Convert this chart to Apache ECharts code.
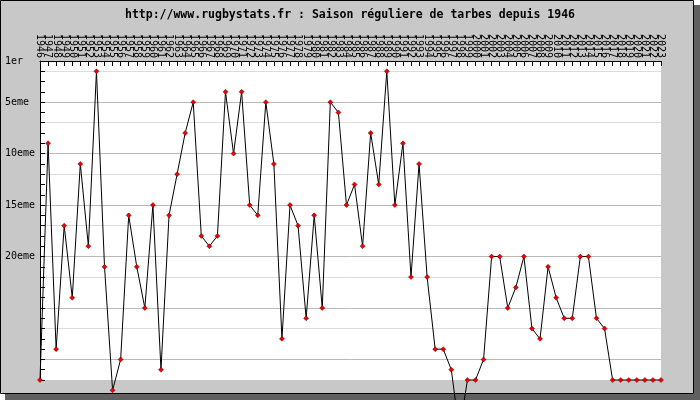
<!DOCTYPE html>
<html>
<head>
<meta charset="utf-8">
<script src="https://cdn.jsdelivr.net/npm/echarts@6/dist/echarts.min.js"></script>
<style>
html,body{margin:0;padding:0;background:#fff;}
#chart{width:700px;height:400px;}
</style>
</head>
<body>
<div id="chart"></div>
<script>
const titleText = 'http://www.rugbystats.fr : Saison réguliere de tarbes depuis 1946';

const years = ['1946','1947','1948','1949','1950','1951','1952','1953','1954','1955',
  '1956','1957','1958','1959','1960','1961','1962','1963','1964','1965',
  '1966','1967','1968','1969','1970','1971','1972','1973','1974','1975',
  '1976','1977','1978','1979','1980','1981','1982','1983','1984','1985',
  '1986','1987','1988','1989','1990','1991','1992','1993','1994','1995',
  '1996','1997','1998','1999','2000','2001','2002','2003','2004','2005',
  '2006','2007','2008','2009','2010','2011','2012','2013','2014','2015',
  '2016','2017','2018','2019','2020','2021','2022','2023'];

// Regular-season rank per year (32 = bottom line of the chart)
const ranks = [32, 9, 29, 17, 24, 11, 19, 2, 21, 33,
  30, 16, 21, 25, 15, 31, 16, 12, 8, 5,
  18, 19, 18, 4, 10, 4, 15, 16, 5, 11,
  28, 15, 17, 26, 16, 25, 5, 6, 15, 13,
  19, 8, 13, 2, 15, 9, 22, 11, 22, 29,
  29, 31, 37, 32, 32, 30, 20, 20, 25, 23,
  20, 27, 28, 21, 24, 26, 26, 20, 20, 26,
  27, 32, 32, 32, 32, 32, 32, 32];

const yLabelRanks = [1, 5, 10, 15, 20];
const yLabelTexts = ['1er', '5eme', '10eme', '15eme', '20eme'];
const darkGridRanks = [5, 10, 15, 20, 25, 30];
const lightGridRanks = [2, 7, 12, 17, 22, 27];
const rankMin = 1, rankMax = 32;

const gridColors = [];
for (let r = rankMin; r <= rankMax; r++) {
  if (darkGridRanks.indexOf(r) >= 0) gridColors.push('#b9b9b9');
  else if (lightGridRanks.indexOf(r) >= 0) gridColors.push('#dddddd');
  else gridColors.push('rgba(0,0,0,0)');
}

const chart = echarts.init(document.getElementById('chart'), null, {renderer: 'canvas'});
const mono = '"DejaVu Sans Mono", "Liberation Mono", monospace';

chart.setOption({
  animation: false,
  backgroundColor: '#c8c8c8',
  title: {
    text: titleText,
    left: 'center',
    top: 4,
    textStyle: {fontFamily: mono, fontWeight: 'bold', fontSize: 11.5, color: '#000'}
  },
  graphic: [
    {type: 'rect', z: 0, silent: true, shape: {x: 694, y: 5, width: 6, height: 395}, style: {fill: '#606060'}},
    {type: 'rect', z: 0, silent: true, shape: {x: 5, y: 394, width: 695, height: 6}, style: {fill: '#606060'}},
    {type: 'rect', z: 0, silent: true, shape: {x: 694, y: 0, width: 6, height: 5}, style: {fill: '#ffffff'}},
    {type: 'rect', z: 0, silent: true, shape: {x: 0, y: 394, width: 5, height: 6}, style: {fill: '#ffffff'}},
    {type: 'rect', z: 0, silent: true, shape: {x: 0.5, y: 0.5, width: 693, height: 393}, style: {fill: null, stroke: '#000', lineWidth: 1}}
  ],
  grid: {
    left: 40, right: 39, top: 61, bottom: 20,
    show: true, backgroundColor: '#ffffff', borderWidth: 0
  },
  xAxis: {
    type: 'category',
    data: years,
    position: 'top',
    boundaryGap: false,
    axisLine: {show: true, lineStyle: {color: '#000', width: 1}},
    axisTick: {show: true, inside: true, length: 5, interval: 0, lineStyle: {color: '#000'}},
    axisLabel: {
      interval: 0, rotate: 90, margin: 3,
      fontFamily: mono, fontSize: 10, color: '#000'
    },
    splitLine: {show: false}
  },
  yAxis: {
    type: 'value',
    inverse: true,
    min: rankMin, max: rankMax, interval: 1,
    axisLine: {show: true, lineStyle: {color: '#000', width: 1}},
    axisTick: {show: true, inside: true, length: 5, lineStyle: {color: '#000'}},
    axisLabel: {
      align: 'left', margin: 35,
      fontFamily: mono, fontSize: 10, color: '#000',
      formatter: function (v) {
        const i = yLabelRanks.indexOf(v);
        return i >= 0 ? yLabelTexts[i] : '';
      }
    },
    splitLine: {show: true, lineStyle: {color: gridColors, width: 1}}
  },
  series: [{
    type: 'line',
    data: ranks,
    clip: false,
    z: 5,
    symbol: 'diamond',
    symbolSize: 5,
    showAllSymbol: true,
    lineStyle: {color: '#000', width: 1},
    itemStyle: {color: '#ee0000', borderColor: '#660000', borderWidth: 0.5}
  }]
});
</script>
</body>
</html>
